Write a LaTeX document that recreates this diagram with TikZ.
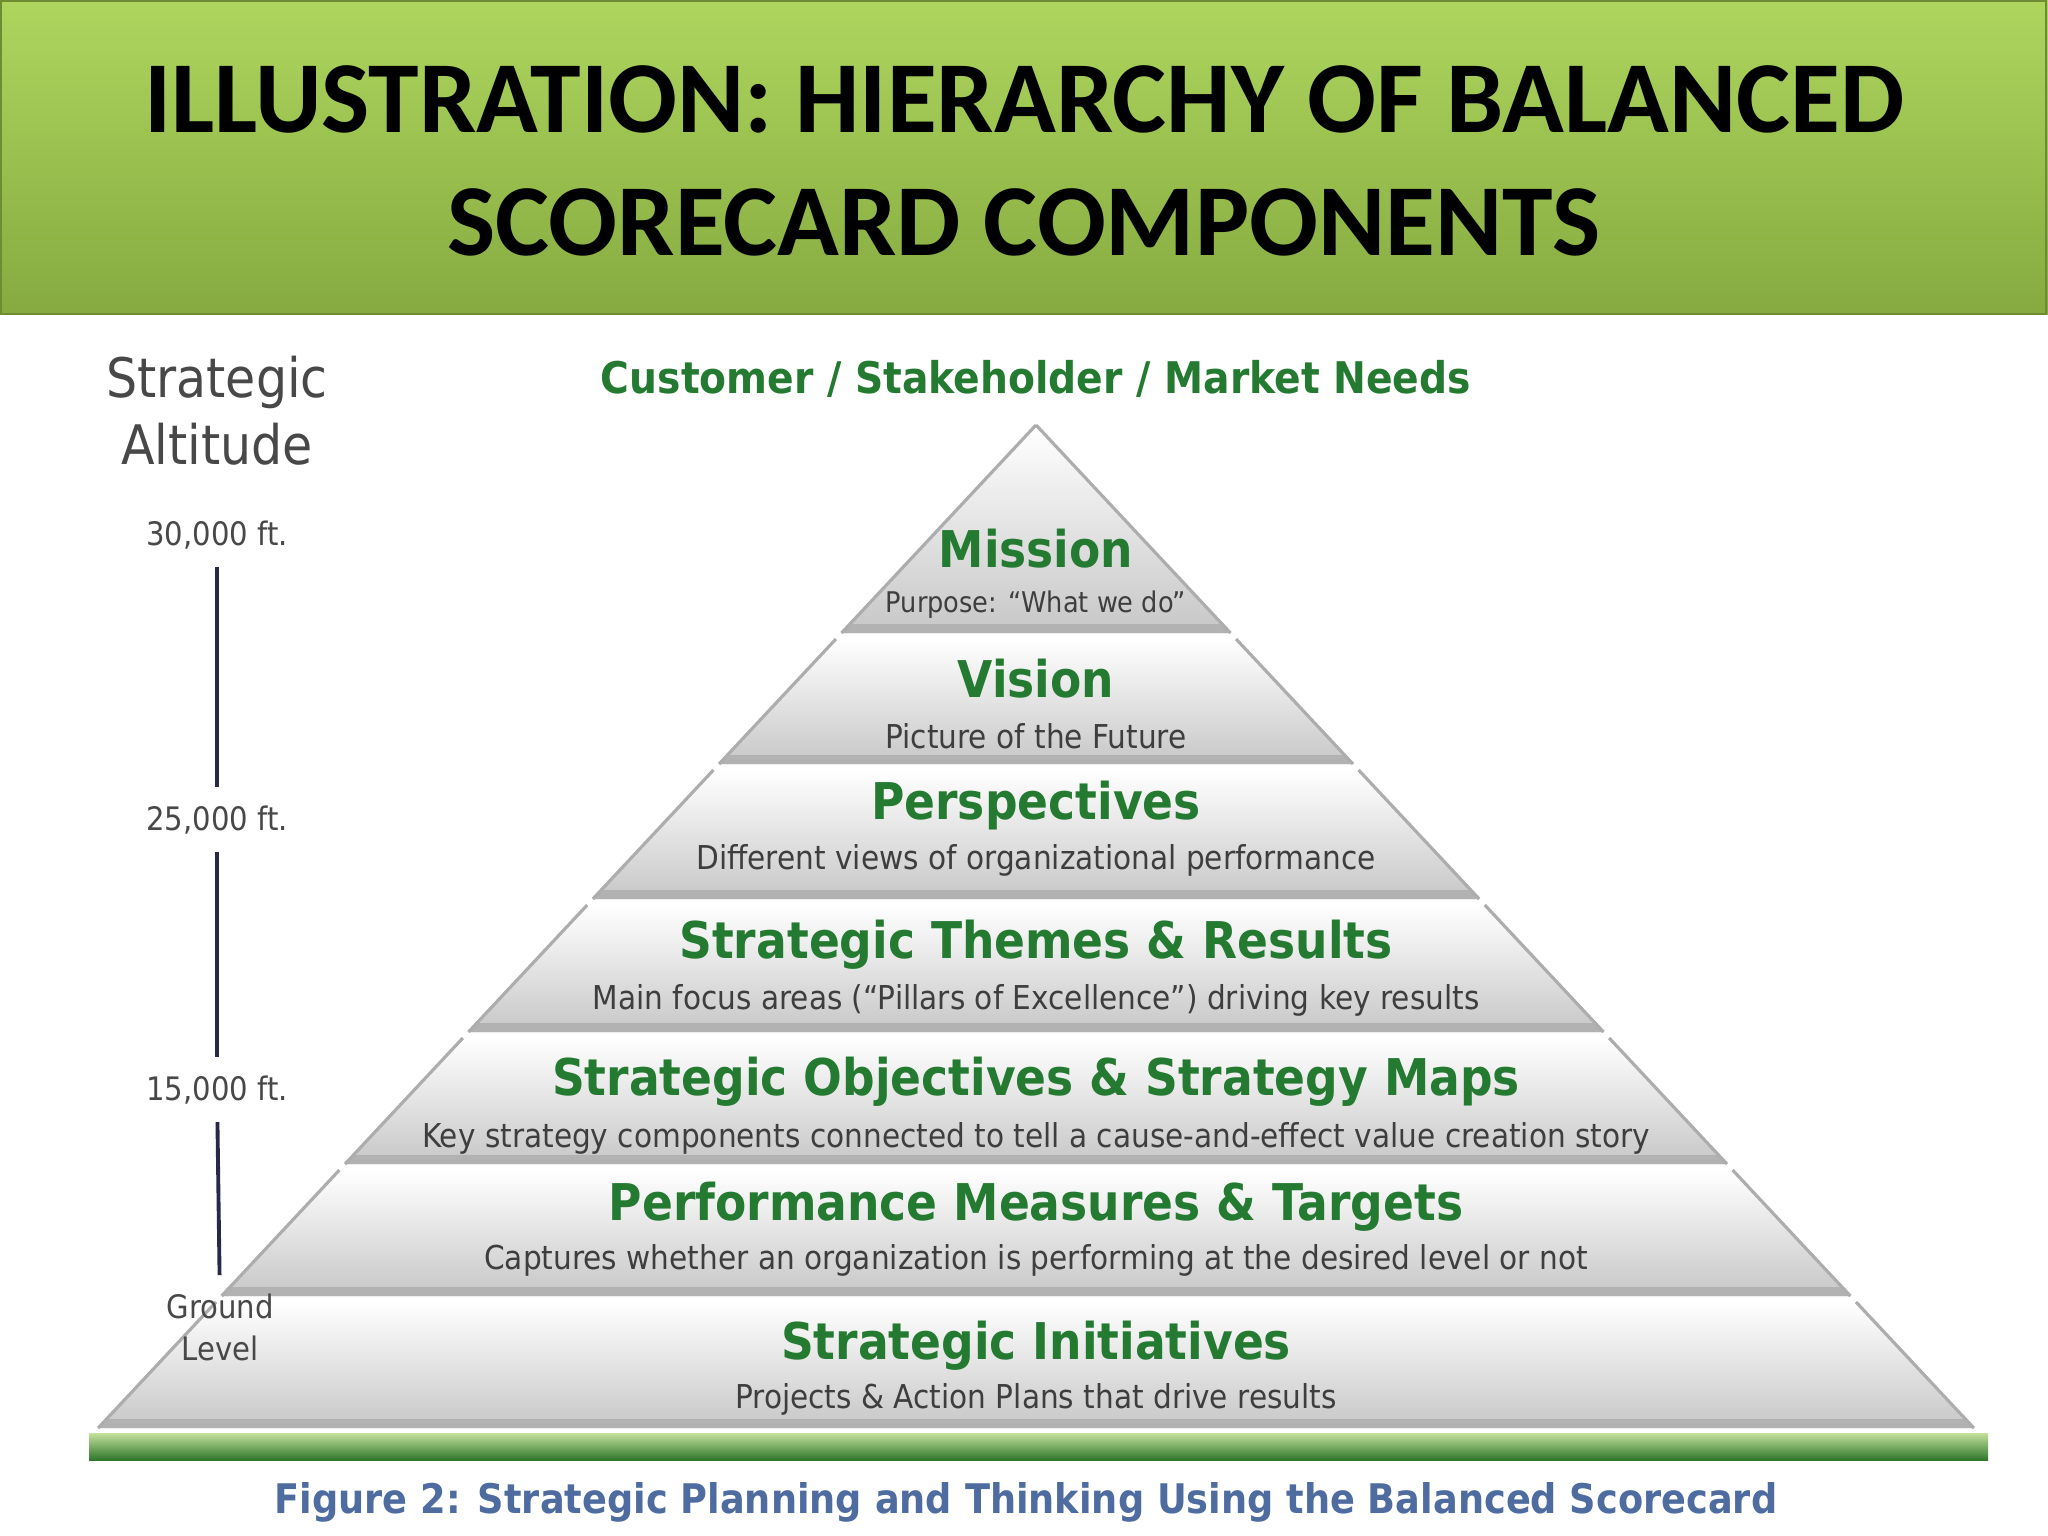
\documentclass[tikz,border=0pt]{standalone}
\usepackage{fontspec}
\setmainfont{Carlito}
\newfontfamily\tahoma{DejaVu Sans}[FakeStretch=0.9]

\definecolor{bannertop}{RGB}{174,214,94}
\definecolor{bannerbot}{RGB}{134,170,64}
\definecolor{bannerline}{RGB}{110,140,50}
\definecolor{levelgreen}{RGB}{36,122,48}
\definecolor{subgray}{RGB}{62,62,62}
\definecolor{altgray}{RGB}{72,72,72}
\definecolor{stemcolor}{RGB}{40,40,72}
\definecolor{captionblue}{RGB}{78,108,160}
\definecolor{groundtop}{RGB}{196,226,156}
\definecolor{groundmid}{RGB}{76,160,58}
\definecolor{groundbot}{RGB}{48,118,44}

\begin{document}
\begin{tikzpicture}[x=0.01cm, y=-0.01cm,
    title/.style={anchor=base, font=\bfseries\fontsize{29}{34}\selectfont, inner sep=0pt},
    needs/.style={anchor=base, text=levelgreen, font=\tahoma\bfseries\fontsize{12.4}{15}\selectfont, inner sep=0pt},
    alttitle/.style={anchor=base, text=altgray, font=\tahoma\fontsize{15.5}{19}\selectfont, inner sep=0pt},
    altitude/.style={anchor=base, text=altgray, font=\tahoma\fontsize{9.2}{11}\selectfont, inner sep=5pt},
    level/.style={anchor=base, text=levelgreen, font=\tahoma\bfseries\fontsize{14.4}{17}\selectfont, inner sep=0pt},
    levelsub/.style={anchor=base, text=subgray, font=\tahoma\fontsize{9.35}{11}\selectfont, inner sep=0pt},
    caption/.style={anchor=base, text=captionblue, font=\tahoma\bfseries\fontsize{11.6}{14}\selectfont, inner sep=0pt},
    stem/.style={stemcolor, line width=1.1pt}]

    \useasboundingbox (0,0) rectangle (2048,1536);
    \fill[white] (0,0) rectangle (2048,1536);

    % banner
    \shade[top color=bannertop, bottom color=bannerbot] (0,0) rectangle (2048,314);
    \draw[bannerline, line width=0.8pt] (1,1) rectangle (2046,314);
    \node[title] (title1) at (1024,132) {ILLUSTRATION: HIERARCHY OF BALANCED};
    \node[title] (title2) at (1024,255) {SCORECARD COMPONENTS};

    % pyramid levels
    \foreach \t/\b in {425/633, 639/764, 770/899, 905/1032, 1038/1164, 1170/1296, 1302/1428} {
        \pgfmathsetmacro\wt{(\t-425)*0.935}
        \pgfmathsetmacro\wb{(\b-425)*0.935}
        \pgfmathsetmacro\ws{(\b-9-425)*0.935}
        \shade[top color=white, middle color=black!4, bottom color=black!22]
            (1036-\wt,\t) -- (1036+\wt,\t) -- (1036+\wb,\b) -- (1036-\wb,\b) -- cycle;
        \fill[black!30] (1036-\ws,\b-9) -- (1036+\ws,\b-9) -- (1036+\wb,\b) -- (1036-\wb,\b) -- cycle;
        \draw[black!32, line width=0.9pt] (1036-\wb,\b) -- (1036-\wt,\t) (1036+\wt,\t) -- (1036+\wb,\b);
    }

    % ground bar
    \shade[top color=groundtop, middle color=groundmid, bottom color=groundbot] (89,1433) rectangle (1988,1460);

    \node[needs] (needs) at (1036,393) {Customer / Stakeholder / Market Needs};

    \node[level] (mission) at (1036,567) {Mission};
    \node[levelsub, font=\tahoma\fontsize{8.1}{10}\selectfont] (missionsub) at (1036,612) {Purpose: “What we do”};
    \node[level] (vision) at (1036,697) {Vision};
    \node[levelsub] (visionsub) at (1036,748) {Picture of the Future};
    \node[level] (perspectives) at (1036,819) {Perspectives};
    \node[levelsub] (perspectivessub) at (1036,869) {Different views of organizational performance};
    \node[level] (themes) at (1036,958) {Strategic Themes \& Results};
    \node[levelsub] (themessub) at (1036,1009) {Main focus areas (“Pillars of Excellence”) driving key results};
    \node[level] (objectives) at (1036,1095) {Strategic Objectives \& Strategy Maps};
    \node[levelsub] (objectivessub) at (1036,1147) {Key strategy components connected to tell a cause-and-effect value creation story};
    \node[level] (measures) at (1036,1220) {Performance Measures \& Targets};
    \node[levelsub] (measuressub) at (1036,1269) {Captures whether an organization is performing at the desired level or not};
    \node[level] (initiatives) at (1036,1359) {Strategic Initiatives};
    \node[levelsub] (initiativessub) at (1036,1408) {Projects \& Action Plans that drive results};

    % altitude scale
    \node[alttitle] (strategic) at (217,397) {Strategic};
    \node[alttitle] (altitude) at (217,464) {Altitude};
    \node[altitude] (alt30) at (217,545) {30,000 ft.};
    \node[altitude] (alt25) at (217,830) {25,000 ft.};
    \node[altitude] (alt15) at (217,1100) {15,000 ft.};
    \node[altitude] (ground) at (220,1318) {Ground};
    \node[altitude] (level) at (220,1360) {Level};

    \draw[stem] (alt30) -- (alt25);
    \draw[stem] (alt25) -- (alt15);
    \draw[stem] (alt15) -- (ground);

    \node[caption] (caption) at (1026,1513) {Figure 2: Strategic Planning and Thinking Using the Balanced Scorecard};
\end{tikzpicture}
\end{document}
